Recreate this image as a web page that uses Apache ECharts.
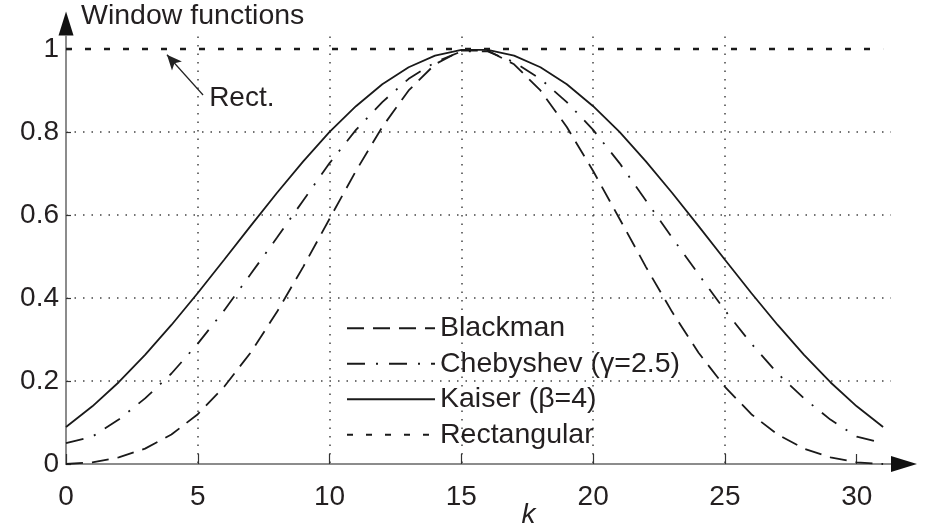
<!DOCTYPE html>
<html>
<head>
<meta charset="utf-8">
<script src="https://cdn.jsdelivr.net/npm/echarts@6/dist/echarts.min.js"></script>
<style>
  html, body { margin: 0; padding: 0; background: #fff; }
  #chart { width: 926px; height: 523px; }
</style>
</head>
<body>
<div id="chart"></div>
<script>
// sample index k = 0..31
var k = [0, 1, 2, 3, 4, 5, 6, 7, 8, 9, 10, 11, 12, 13, 14, 15,
  16, 17, 18, 19, 20, 21, 22, 23, 24, 25, 26, 27, 28, 29, 30, 31]

var blackman = [0, 0.004, 0.016, 0.037, 0.071, 0.120, 0.186, 0.268, 0.366, 0.475, 0.591, 0.706, 0.812, 0.900, 0.963, 0.996,
  0.996, 0.963, 0.900, 0.812, 0.706, 0.591, 0.475, 0.366, 0.268, 0.186, 0.120, 0.071, 0.037, 0.016, 0.004, 0]

var chebyshev = [0.050, 0.066, 0.107, 0.158, 0.218, 0.290, 0.370, 0.457, 0.545, 0.635, 0.725, 0.805, 0.872, 0.928, 0.968, 0.994,
  0.994, 0.968, 0.928, 0.872, 0.805, 0.725, 0.635, 0.545, 0.457, 0.370, 0.290, 0.218, 0.158, 0.107, 0.066, 0.050]

var kaiser = [0.089, 0.139, 0.197, 0.263, 0.335, 0.412, 0.492, 0.573, 0.653, 0.729, 0.800, 0.862, 0.915, 0.956, 0.984, 0.998,
  0.998, 0.984, 0.956, 0.915, 0.862, 0.800, 0.729, 0.653, 0.573, 0.492, 0.412, 0.335, 0.263, 0.197, 0.139, 0.089]

var rectangular = [1, 1, 1, 1, 1, 1, 1, 1, 1, 1, 1, 1, 1, 1, 1, 1,
  1, 1, 1, 1, 1, 1, 1, 1, 1, 1, 1, 1, 1, 1, 1, 1]

var xTicks = [0, 5, 10, 15, 20, 25, 30]
var yTicks = [0, 0.2, 0.4, 0.6, 0.8, 1]
var names = ['Blackman', 'Chebyshev (\u03b3=2.5)', 'Kaiser (\u03b2=4)', 'Rectangular']

var FONT = 'Liberation Sans'
var INK = '#231f20'
var LINE = '#1a1a1a'

function pairs (values) {
  return k.map(function (x, i) { return [x, values[i]] })
}

var chart = echarts.init(document.getElementById('chart'))
chart.setOption({
  animation: false,
  color: [LINE, LINE, LINE, LINE],
  textStyle: { fontFamily: FONT, color: INK },
  title: {
    text: 'Window functions',
    left: 81,
    top: 2,
    padding: 0,
    textStyle: { fontSize: 28.5, fontWeight: 'normal', color: INK, fontFamily: FONT }
  },
  legend: {
    orient: 'vertical',
    left: 346,
    top: 313,
    padding: 0,
    itemWidth: 88,
    itemHeight: 12,
    itemGap: 5,
    selectedMode: false,
    itemStyle: { opacity: 0 },
    textStyle: { fontSize: 28.5, lineHeight: 30.5, color: INK, fontFamily: FONT },
    data: names
  },
  grid: { left: 66, right: 35, top: 36.5, bottom: 59, containLabel: false, outerBoundsMode: 'none' },
  xAxis: [{
    type: 'value',
    min: 0,
    max: 31.3,
    interval: 5,
    name: 'k',
    nameLocation: 'middle',
    nameGap: 37,
    nameMoveOverlap: false,
    nameTextStyle: { fontSize: 28, fontStyle: 'italic', color: INK, padding: [0, 0, 0, 100] },
    axisLine: { lineStyle: { color: '#8c8c8c', width: 2 } },
    axisTick: { inside: true, length: 10, customValues: xTicks, lineStyle: { color: '#333', width: 1.2 } },
    axisLabel: { customValues: xTicks, margin: 19, fontSize: 28, color: INK },
    splitLine: {
      show: true,
      showMinLine: false,
      showMaxLine: false,
      lineStyle: { color: '#444', width: 1.5, type: [1.5, 7] }
    }
  }, {
    // arrow head only
    type: 'value',
    min: 0,
    max: 31.3,
    position: 'bottom',
    axisLine: {
      show: true,
      symbol: ['none', 'triangle'],
      symbolSize: [16, 26],
      symbolOffset: [0, 13],
      lineStyle: { color: '#111', width: 0 }
    },
    axisTick: { show: false },
    axisLabel: { show: false },
    splitLine: { show: false }
  }],
  yAxis: [{
    type: 'value',
    min: 0,
    max: 1.03,
    interval: 0.2,
    axisLine: { show: true, lineStyle: { color: '#8c8c8c', width: 2 } },
    axisTick: { show: true, inside: true, length: 5, customValues: yTicks, lineStyle: { color: '#333', width: 1.2 } },
    axisLabel: { customValues: yTicks, margin: 7, fontSize: 28, color: INK },
    splitLine: {
      show: true,
      showMinLine: false,
      showMaxLine: false,
      lineStyle: { color: '#444', width: 1.5, type: [1.5, 7] }
    }
  }, {
    type: 'value',
    min: 0,
    max: 1.03,
    position: 'left',
    axisLine: {
      show: true,
      symbol: ['none', 'triangle'],
      symbolSize: [15, 24],
      symbolOffset: [0, 13],
      lineStyle: { color: '#111', width: 0 }
    },
    axisTick: { show: false },
    axisLabel: { show: false },
    splitLine: { show: false }
  }],
  series: [{
    name: names[0],
    type: 'line',
    symbol: 'none',
    data: pairs(blackman),
    lineStyle: { color: LINE, width: 1.8, type: [17, 9] }
  }, {
    name: names[1],
    type: 'line',
    symbol: 'none',
    data: pairs(chebyshev),
    lineStyle: { color: LINE, width: 1.8, type: [18, 11, 2, 11] }
  }, {
    name: names[2],
    type: 'line',
    symbol: 'none',
    data: pairs(kaiser),
    lineStyle: { color: LINE, width: 1.8 }
  }, {
    name: names[3],
    type: 'line',
    symbol: 'none',
    data: pairs(rectangular),
    lineStyle: { color: LINE, width: 2.6, type: [6, 13] },
    markLine: {
      silent: true,
      symbol: ['none', 'arrow'],
      symbolSize: [10, 15],
      label: { show: false },
      lineStyle: { color: '#222', width: 1.2, type: 'solid' },
      data: [[{ coord: [5.2, 0.889] }, { coord: [3.83, 0.986] }]]
    },
    markPoint: {
      silent: true,
      symbol: 'circle',
      symbolSize: 1,
      itemStyle: { color: 'rgba(0,0,0,0)' },
      label: { show: true, position: 'inside', formatter: 'Rect.', fontSize: 28, color: INK, fontFamily: FONT },
      data: [{ coord: [6.67, 0.882] }]
    }
  }]
})
</script>
</body>
</html>
